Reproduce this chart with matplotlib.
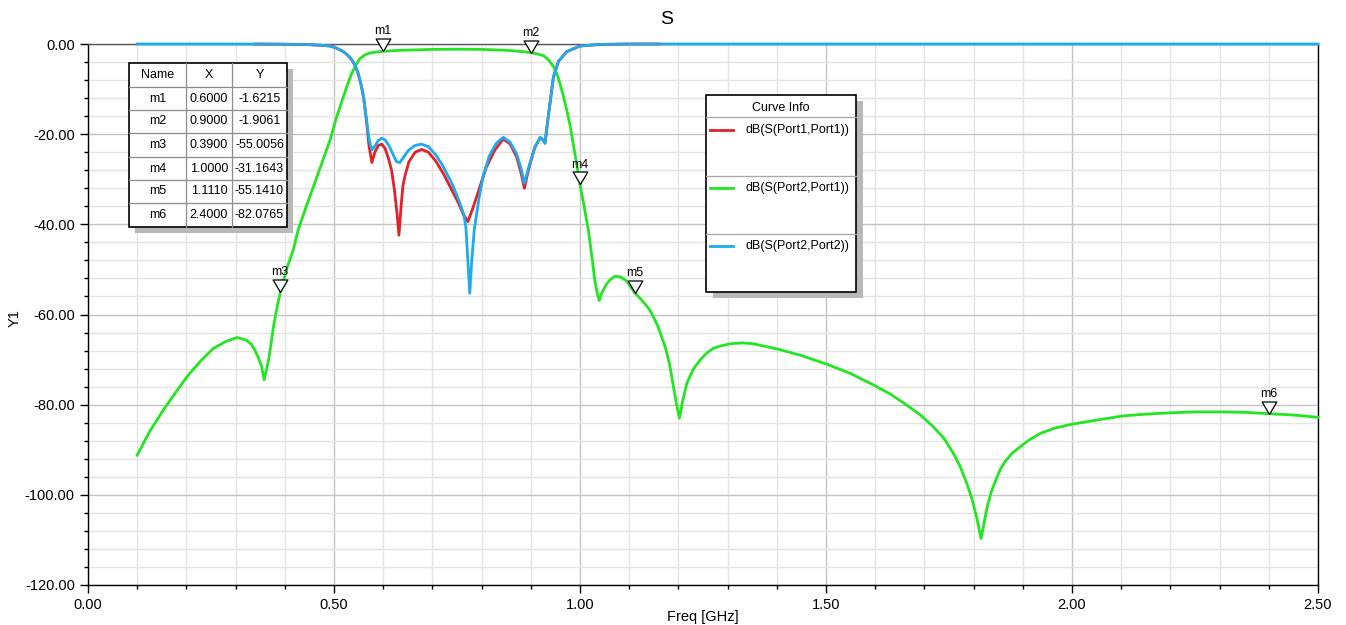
import matplotlib
matplotlib.use("Agg")
import matplotlib.pyplot as plt
from matplotlib.patches import Rectangle
from matplotlib.path import Path
from matplotlib.ticker import MultipleLocator, FormatStrFormatter

plt.rcParams['font.family'] = ['Liberation Sans', 'DejaVu Sans']

# ---------------- data ----------------
s22_x = [0.10, 0.30, 0.40, 0.45, 0.475, 0.492, 0.505, 0.519, 0.528, 0.536, 0.543, 0.549, 0.555,
         0.560, 0.566, 0.572, 0.577, 0.584, 0.590, 0.597, 0.604, 0.612, 0.620, 0.627, 0.634,
         0.642, 0.652, 0.665, 0.678, 0.692, 0.707, 0.722, 0.740, 0.756, 0.764, 0.768, 0.772,
         0.776, 0.780, 0.785, 0.795, 0.803, 0.815, 0.830, 0.844, 0.858, 0.871, 0.880, 0.887,
         0.893, 0.898, 0.908, 0.919, 0.925, 0.929, 0.932, 0.939, 0.946, 0.956, 0.973, 1.00,
         1.04, 1.10, 1.50, 2.50]
s22_y = [0, 0, -0.05, -0.15, -0.3, -0.44, -0.9, -1.7, -2.5, -3.5, -4.8, -6.5, -9.0,
         -11.7, -16.9, -21.5, -23.5, -22.5, -21.4, -20.9, -21.3, -22.6, -24.5, -26.1, -26.3,
         -25.0, -23.5, -22.5, -22.2, -22.8, -24.6, -27.2, -31.0, -35.3, -38.0, -40.5, -48.0,
         -55.3, -48.0, -41.3, -34.0, -29.4, -25.0, -22.0, -20.7, -21.8, -24.3, -27.5, -30.9,
         -28.5, -26.5, -23.0, -20.7, -21.3, -22.0, -19.1, -13.2, -7.3, -3.9, -1.7, -0.44,
         -0.1, 0, 0, 0]

s11_x = [0.34, 0.40, 0.45, 0.475, 0.492, 0.505, 0.519, 0.528, 0.536, 0.543, 0.549, 0.555,
         0.560, 0.566, 0.571, 0.577, 0.583, 0.590, 0.597, 0.604, 0.611, 0.617, 0.623, 0.628,
         0.632, 0.636, 0.640, 0.644, 0.652, 0.665, 0.678, 0.692, 0.707, 0.722, 0.740, 0.753,
         0.763, 0.772, 0.781, 0.790, 0.800, 0.810, 0.827, 0.844, 0.858, 0.871, 0.880, 0.887,
         0.893, 0.898, 0.908, 0.919, 0.925, 0.929, 0.932, 0.939, 0.946, 0.956, 0.973, 1.00,
         1.04, 1.10, 1.16]
s11_y = [0, -0.05, -0.15, -0.3, -0.44, -0.9, -1.7, -2.5, -3.5, -4.8, -6.5, -9.0,
         -11.7, -16.9, -22.5, -26.3, -24.0, -22.5, -22.2, -23.2, -25.5, -28.0, -32.5, -37.5,
         -42.4, -36.5, -31.5, -29.4, -26.2, -24.0, -23.4, -24.0, -26.0, -28.7, -32.5, -35.3,
         -37.8, -39.4, -36.8, -33.9, -30.5, -27.2, -23.5, -21.1, -22.2, -25.0, -28.5, -32.0,
         -29.0, -26.8, -23.0, -20.8, -21.3, -22.0, -19.1, -13.2, -7.3, -3.9, -1.7, -0.44,
         -0.1, 0, 0]

s21_x = [0.10, 0.125, 0.153, 0.18, 0.204, 0.23, 0.255, 0.28, 0.303, 0.322, 0.332, 0.339,
         0.346, 0.353, 0.358, 0.362, 0.367, 0.372, 0.377, 0.385, 0.392, 0.405, 0.417, 0.427,
         0.442, 0.458, 0.475, 0.492, 0.505, 0.519, 0.528, 0.536, 0.545, 0.553, 0.563, 0.573,
         0.585, 0.600, 0.625, 0.650, 0.700, 0.750, 0.800, 0.850, 0.875, 0.900, 0.913, 0.926,
         0.936, 0.946, 0.953, 0.959, 0.966, 0.973, 0.980, 0.986, 0.993, 1.000, 1.008, 1.017,
         1.024, 1.030, 1.035, 1.039, 1.044, 1.051, 1.060, 1.071, 1.083, 1.095, 1.111, 1.127,
         1.142, 1.158, 1.173, 1.182, 1.190, 1.196, 1.202, 1.208, 1.217, 1.230, 1.244, 1.257,
         1.271, 1.285, 1.305, 1.330, 1.352, 1.403, 1.450, 1.501, 1.550, 1.596, 1.630, 1.664,
         1.692, 1.718, 1.740, 1.759, 1.773, 1.786, 1.797, 1.806, 1.811, 1.815, 1.820, 1.827,
         1.836, 1.847, 1.855, 1.864, 1.878, 1.894, 1.912, 1.935, 1.965, 2.001, 2.057, 2.103,
         2.150, 2.203, 2.250, 2.301, 2.350, 2.400, 2.450, 2.500]
s21_y = [-91.2, -86.0, -81.2, -77.0, -73.4, -70.2, -67.5, -66.0, -65.1, -65.7, -66.6, -67.9,
         -69.5, -71.6, -74.5, -72.5, -70.1, -66.5, -62.7, -58.0, -54.5, -49.5, -45.7, -41.3,
         -36.5, -31.7, -26.5, -21.3, -16.3, -11.7, -8.8, -6.5, -4.6, -3.2, -2.4, -2.0,
         -1.8, -1.62, -1.45, -1.35, -1.2, -1.15, -1.2, -1.4, -1.6, -1.9, -2.2, -2.6,
         -3.5, -5.0, -6.6, -8.7, -11.5, -14.6, -18.2, -22.0, -26.5, -31.16, -35.8, -41.3,
         -47.0, -52.4, -55.3, -56.9, -55.3, -53.8, -52.4, -51.5, -51.7, -52.6, -55.14, -57.0,
         -59.0, -62.5, -67.1, -71.0, -76.0, -79.8, -83.0, -79.5, -75.3, -72.2, -70.1, -68.6,
         -67.5, -67.0, -66.5, -66.3, -66.5, -67.7, -69.1, -71.0, -73.1, -75.6, -77.6, -80.1,
         -82.3, -84.9, -87.5, -90.8, -93.8, -97.4, -101.0, -104.9, -107.5, -109.7, -107.0, -103.0,
         -99.3, -96.2, -94.2, -92.6, -90.8, -89.4, -87.9, -86.4, -85.2, -84.3, -83.3, -82.5,
         -82.1, -81.8, -81.6, -81.6, -81.7, -82.0, -82.3, -82.8]

marker_names = ['m1', 'm2', 'm3', 'm4', 'm5', 'm6']
marker_x = [0.6000, 0.9000, 0.3900, 1.0000, 1.1110, 2.4000]
marker_y = [-1.6215, -1.9061, -55.0056, -31.1643, -55.1410, -82.0765]

legend_labels = ['dB(S(Port1,Port1))', 'dB(S(Port2,Port1))', 'dB(S(Port2,Port2))']
colors = ['#e32128', '#22e622', '#1eaaee']

x_ticks = [0.0, 0.5, 1.0, 1.5, 2.0, 2.5]
y_ticks = [0, -20, -40, -60, -80, -100, -120]

# ---------------- figure ----------------
W, H = 1346, 625
fig = plt.figure(figsize=(W / 100, H / 100), dpi=100)
L, R, T, B = 88, 1318, 44, 585
ax = fig.add_axes([L / W, 1 - B / H, (R - L) / W, (B - T) / H])

ax.set_xlim(0, 2.5)
ax.set_ylim(-120, 0)
ax.set_xticks(x_ticks)
ax.set_yticks(y_ticks)
ax.xaxis.set_minor_locator(MultipleLocator(0.1))
ax.yaxis.set_minor_locator(MultipleLocator(4))
ax.xaxis.set_major_formatter(FormatStrFormatter('%.2f'))
ax.yaxis.set_major_formatter(FormatStrFormatter('%.2f'))
ax.grid(which='major', color='#c4c4c4', linewidth=1.0)
ax.grid(which='minor', color='#e4e4e4', linewidth=1.0)
ax.set_axisbelow(True)
ax.tick_params(which='major', direction='out', length=6, width=1, labelsize=10.5, colors='black')
ax.tick_params(which='minor', direction='out', length=3, width=1)
for s in ax.spines.values():
    s.set_color('black')
    s.set_linewidth(1.0)
ax.spines['top'].set_color('#555555')

ax.plot(s11_x, s11_y, color=colors[0], lw=2.0, clip_on=False, zorder=3)
ax.plot(s21_x, s21_y, color=colors[1], lw=2.0, clip_on=False, zorder=3)
ax.plot(s22_x, s22_y, color=colors[2], lw=2.0, clip_on=False, zorder=4)

# marker triangles with tip at the point
tri = Path([(-1.0, 1.7), (1.0, 1.7), (0.0, 0.0), (-1.0, 1.7)],
           [Path.MOVETO, Path.LINETO, Path.LINETO, Path.CLOSEPOLY])
for n, mx, my in zip(marker_names, marker_x, marker_y):
    ax.plot([mx], [my], marker=tri, markersize=18, markerfacecolor='white',
            markeredgecolor='black', markeredgewidth=0.9, clip_on=False, zorder=6)
    ax.annotate(n, (mx, my), xytext=(0, 10), textcoords='offset points',
                ha='center', va='bottom', fontsize=9, zorder=7, annotation_clip=False)

fig.text(15 / W, 1 - 318 / H, 'Y1', ha='center', va='center', rotation=90, fontsize=10.5)
fig.text(667 / W, 1 - 20 / H, 'S', ha='center', va='center', fontsize=14)
fig.text(703 / W, 1 - 624 / H, 'Freq [GHz]', ha='center', va='bottom', fontsize=10.5)

# ---------------- overlay (pixel coords) ----------------
ov = fig.add_axes([0, 0, 1, 1], zorder=10)
ov.set_xlim(0, W)
ov.set_ylim(H, 0)
ov.axis('off')

# marker table
tx0, tx1, ty0, ty1 = 129, 287, 63, 227
ov.add_patch(Rectangle((tx0 + 6, ty0 + 6), tx1 - tx0, ty1 - ty0, facecolor='#b8b8b8', edgecolor='none'))
ov.add_patch(Rectangle((tx0, ty0), tx1 - tx0, ty1 - ty0, facecolor='white', edgecolor='black', lw=1.2))
col_edges = [tx0, 186, 232, tx1]
row_edges = [ty0, 87, 110, 133, 157, 180, 203, ty1]
for cx in col_edges[1:-1]:
    ov.plot([cx, cx], [ty0, ty1], color='#8c8c8c', lw=0.9)
for ry in row_edges[1:-1]:
    ov.plot([tx0, tx1], [ry, ry], color='#8c8c8c', lw=0.9)
header = ['Name', 'X', 'Y']
rows = [header] + [[n, '%.4f' % mx, '%.4f' % my] for n, mx, my in zip(marker_names, marker_x, marker_y)]
for ri, row in enumerate(rows):
    yc = (row_edges[ri] + row_edges[ri + 1]) / 2
    for ci, txt in enumerate(row):
        xc = (col_edges[ci] + col_edges[ci + 1]) / 2
        ov.text(xc, yc, txt, ha='center', va='center', fontsize=9)

# curve info legend
lx0, lx1, ly0, ly1 = 706, 856, 95, 292
ov.add_patch(Rectangle((lx0 + 7, ly0 + 6), lx1 - lx0, ly1 - ly0, facecolor='#b8b8b8', edgecolor='none'))
ov.add_patch(Rectangle((lx0, ly0), lx1 - lx0, ly1 - ly0, facecolor='white', edgecolor='black', lw=1.2))
ov.text((lx0 + lx1) / 2, 108, 'Curve Info', ha='center', va='center', fontsize=9)
for sy in [117, 176, 234]:
    ov.plot([lx0, lx1], [sy, sy], color='#a8a8a8', lw=0.9)
for lab, c, yy in zip(legend_labels, colors, [130, 188, 246]):
    ov.plot([710, 733], [yy, yy], color=c, lw=2.0)
    ov.text(746, yy, lab, ha='left', va='center', fontsize=9)

fig.savefig('out.png', dpi=100)
